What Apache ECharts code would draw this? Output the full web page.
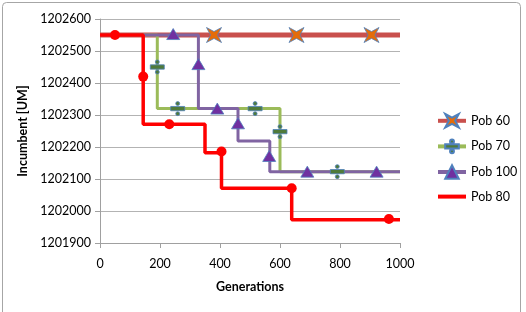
<!DOCTYPE html>
<html>
<head>
<meta charset="utf-8">
<script src="https://cdn.jsdelivr.net/npm/echarts@6/dist/echarts.min.js"></script>
<style>html,body{margin:0;padding:0;background:#fff}#c{width:526px;height:312px}</style>
</head>
<body>
<div id="c"></div>
<script>
// Step paths (corner points) and marker points for each series
const pob60Path = [[0,1202550],[1000,1202550]];
const pob60Markers = [[380,1202550],[655,1202550],[905,1202550]];

const pob70Path = [[0,1202550],[191,1202550],[191,1202320],[600,1202320],[600,1202123],[1000,1202123]];
const pob70Markers = [[191,1202450],[259,1202320],[517,1202320],[600,1202248],[791,1202123]];

const pob100Path = [[0,1202550],[328,1202550],[328,1202320],[460,1202320],[460,1202219],[566,1202219],[566,1202123],[1000,1202123]];
const pob100Markers = [[244,1202553],[328,1202459],[391,1202320],[460,1202274],[564,1202172],[691,1202123],[922,1202123]];

const pob80Path = [[0,1202550],[144,1202550],[144,1202271],[350,1202271],[350,1202182],[405,1202182],[405,1202071],[639,1202071],[639,1201973],[1000,1201973]];
const pob80Markers = [[50,1202550],[144,1202420],[231,1202271],[405,1202186],[639,1202071],[963,1201975]];

const xTicks = [0,200,400,600,800,1000];
const yTicks = [1201900,1202000,1202100,1202200,1202300,1202400,1202500,1202600];

const xMark = 'path://M0,0 L5,2.7 L10,0 L7.3,5 L10,10 L5,7.3 L0,10 L2.7,5 Z';
const plusMark = 'path://M0,5 L14,5 L14,9.4 L0,9.4 Z M5,2 A2,2 0 1,0 9,2 A2,2 0 1,0 5,2 Z M5,12.4 A2,2 0 1,0 9,12.4 A2,2 0 1,0 5,12.4 Z';

function mkSeries(name, path, markers, lineColor, lineWidth, symbol, symbolSize, fill, border, legendSymbol) {
  return {
    name: name,
    type: 'line',
    data: path.map(p => ({value: p, symbol: 'none'})),
    symbol: legendSymbol ? symbol : 'none',
    symbolSize: symbolSize,
    showSymbol: true,
    lineStyle: {color: lineColor, width: lineWidth},
    itemStyle: {color: fill, borderColor: border || fill, borderWidth: border ? 0.8 : 0},
    emphasis: {disabled: true},
    silent: true,
    markPoint: {
      symbol: symbol,
      symbolSize: symbolSize,
      silent: true,
      label: {show: false},
      itemStyle: {color: fill, borderColor: border || fill, borderWidth: border ? 0.8 : 0},
      data: markers.map(m => ({coord: m}))
    }
  };
}

const chart = echarts.init(document.getElementById('c'), null, {renderer: 'canvas'});
chart.setOption({
  animation: false,
  backgroundColor: '#fff',
  textStyle: {fontFamily: 'Lato'},
  graphic: [{
    type: 'rect', silent: true, z: -1,
    shape: {x: 2.5, y: 2.5, width: 518, height: 330, r: 4},
    style: {fill: 'none', stroke: '#A6A6A6', lineWidth: 1}
  }],
  grid: {left: 100, right: 126, top: 19, bottom: 69},
  legend: {
    orient: 'vertical',
    left: 431, top: 108,
    itemWidth: 28, itemHeight: 17, itemGap: 10,
    lineStyle: {width: 4},
    textStyle: {fontFamily: 'Lato', fontSize: 12.5, color: '#000'},
    data: ['Pob 60','Pob 70','Pob 100',
      {name: 'Pob 80', itemStyle: {color: 'rgba(0,0,0,0)', borderColor: 'rgba(0,0,0,0)', borderWidth: 0}}]
  },
  xAxis: {
    type: 'value', min: 0, max: 1000, interval: 200,
    name: 'Generations', nameLocation: 'middle', nameGap: 37,
    nameTextStyle: {fontFamily: 'Lato', fontWeight: 'bold', fontSize: 12.5, color: '#000'},
    axisLine: {show: true, lineStyle: {color: '#A0A0A0', width: 1}},
    axisTick: {show: true, length: 5, lineStyle: {color: '#A0A0A0'}},
    axisLabel: {margin: 14, fontFamily: 'Lato', fontSize: 12.5, color: '#000',
      formatter: v => xTicks.includes(v) ? String(v) : ''},
    splitLine: {show: false}
  },
  yAxis: {
    type: 'value', min: 1201900, max: 1202600, interval: 100,
    name: 'Incumbent [UM]', nameLocation: 'middle', nameGap: 61,
    nameTextStyle: {fontFamily: 'Lato', fontWeight: 'bold', fontSize: 12.5, color: '#000'},
    axisLine: {show: true, lineStyle: {color: '#A0A0A0', width: 1}},
    axisTick: {show: true, length: 5, lineStyle: {color: '#A0A0A0'}},
    axisLabel: {margin: 9, fontFamily: 'Lato', fontSize: 12.5, color: '#000',
      formatter: v => yTicks.includes(v) ? String(v) : ''},
    splitLine: {show: true, lineStyle: {color: '#B3B3B3', width: 1}}
  },
  series: [
    mkSeries('Pob 60', pob60Path, pob60Markers, '#C9504D', 5, xMark, 15, '#E46C0A', '#4F81BD', true),
    mkSeries('Pob 70', pob70Path, pob70Markers, '#9BBB59', 3, plusMark, [14,14], '#4F7A3A', '#4F81BD', true),
    mkSeries('Pob 100', pob100Path, pob100Markers, '#8064A2', 3, 'triangle', [13,11], '#7030A0', '#4F81BD', true),
    mkSeries('Pob 80', pob80Path, pob80Markers, '#FF0000', 3.5, 'circle', 10, '#FF0000', null, false)
  ]
});
</script>
</body>
</html>
